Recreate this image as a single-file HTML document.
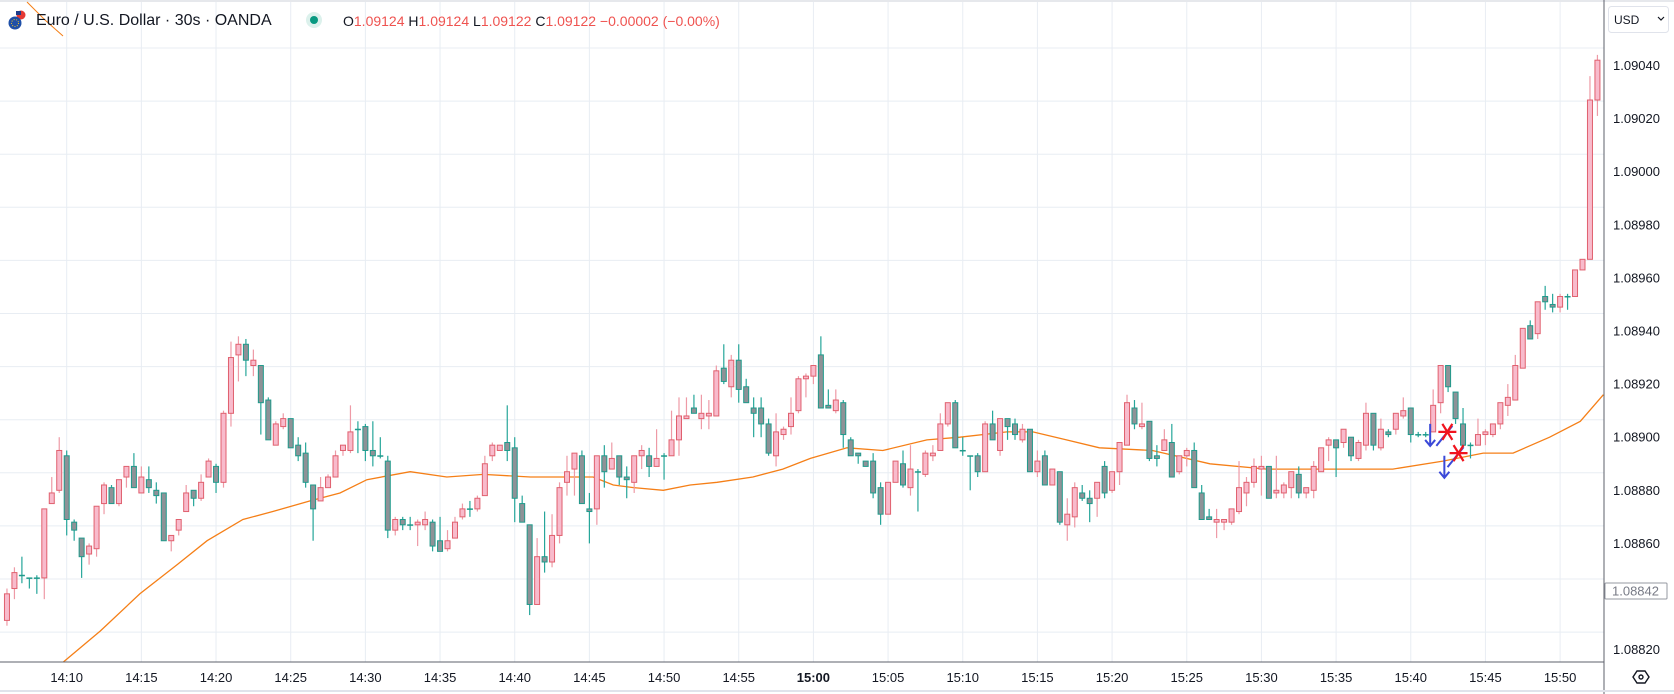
<!DOCTYPE html>
<html><head><meta charset="utf-8"><style>
html,body{margin:0;padding:0;background:#fff;}
body{width:1674px;height:694px;overflow:hidden;position:relative;font-family:"Liberation Sans",sans-serif;}
svg{position:absolute;left:0;top:0;}
.hdr{position:absolute;top:11px;left:36px;font-size:16px;color:#131722;white-space:nowrap;line-height:20px;}
.ohlc{position:absolute;top:13px;left:343px;font-size:14px;color:#ef5350;white-space:nowrap;line-height:16px;}
.ohlc b{font-weight:normal;color:#131722;}
</style></head><body>
<svg id="chart" width="1674" height="694"></svg>
<div class="hdr">Euro / U.S. Dollar · 30s · OANDA</div>
<div class="ohlc"><b>O</b>1.09124 <b>H</b>1.09124 <b>L</b>1.09122 <b>C</b>1.09122 −0.00002 (−0.00%)</div>
<script>
const opens=[1.08831,1.08843,1.08848,1.08847,1.08847,1.08847,1.08875,1.08880,1.08893,1.08868,
1.08862,1.08856,1.08858,1.08875,1.08881,1.08875,1.08885,1.08889,1.08879,1.08884,
1.08880,1.08879,1.08861,1.08865,1.08872,1.08880,1.08877,1.08885,1.08889,1.08883,
1.08909,1.08931,1.08935,1.08927,1.08927,1.08914,1.08897,1.08904,1.08907,1.08897,
1.08894,1.08882,1.08876,1.08881,1.08885,1.08895,1.08895,1.08903,1.08904,1.08895,
1.08893,1.08891,1.08865,1.08869,1.08867,1.08867,1.08867,1.08868,1.08861,1.08858,
1.08862,1.08870,1.08873,1.08873,1.08878,1.08893,1.08895,1.08898,1.08896,1.08875,
1.08867,1.08837,1.08855,1.08853,1.08863,1.08883,1.08888,1.08893,1.08873,1.08873,
1.08893,1.08888,1.08893,1.08885,1.08883,1.08893,1.08893,1.08889,1.08893,1.08893,
1.08899,1.08907,1.08911,1.08907,1.08908,1.08908,1.08926,1.08919,1.08929,1.08919,
1.08911,1.08911,1.08905,1.08893,1.08901,1.08904,1.08910,1.08922,1.08923,1.08931,
1.08912,1.08910,1.08913,1.08899,1.08894,1.08891,1.08891,1.08881,1.08871,1.08883,
1.08890,1.08881,1.08887,1.08886,1.08893,1.08895,1.08905,1.08913,1.08895,1.08893,
1.08893,1.08887,1.08905,1.08895,1.08907,1.08905,1.08899,1.08903,1.08887,1.08893,
1.08882,1.08887,1.08867,1.08870,1.08879,1.08877,1.08877,1.08889,1.08880,1.08887,
1.08897,1.08911,1.08904,1.08906,1.08893,1.08895,1.08898,1.08887,1.08893,1.08895,
1.08879,1.08870,1.08868,1.08868,1.08868,1.08872,1.08879,1.08883,1.08888,1.08889,
1.08879,1.08879,1.08881,1.08886,1.08879,1.08880,1.08887,1.08897,1.08899,1.08898,
1.08900,1.08892,1.08897,1.08909,1.08896,1.08902,1.08903,1.08908,1.08911,1.08901,
1.08901,1.08902,1.08913,1.08927,1.08917,1.08905,1.08897,1.08897,1.08901,1.08901,
1.08905,1.08912,1.08914,1.08926,1.08942,1.08939,1.08953,1.08950,1.08949,1.08953,
1.08953,1.08963,1.08967,1.09027];
const highs=[1.08843,1.08851,1.08855,1.08847,1.08848,1.08873,1.08885,1.08900,1.08895,1.08869,
1.08862,1.08860,1.08874,1.08883,1.08882,1.08884,1.08889,1.08894,1.08889,1.08889,
1.08883,1.08879,1.08863,1.08869,1.08882,1.08880,1.08886,1.08892,1.08890,1.08910,
1.08936,1.08938,1.08937,1.08933,1.08927,1.08915,1.08906,1.08909,1.08907,1.08900,
1.08898,1.08882,1.08885,1.08886,1.08895,1.08897,1.08912,1.08906,1.08905,1.08906,
1.08900,1.08893,1.08870,1.08870,1.08870,1.08869,1.08872,1.08869,1.08870,1.08865,
1.08870,1.08875,1.08876,1.08878,1.08893,1.08898,1.08897,1.08912,1.08900,1.08878,
1.08867,1.08862,1.08872,1.08871,1.08883,1.08893,1.08894,1.08895,1.08879,1.08893,
1.08897,1.08898,1.08893,1.08889,1.08893,1.08897,1.08896,1.08903,1.08894,1.08910,
1.08915,1.08915,1.08916,1.08916,1.08914,1.08927,1.08935,1.08931,1.08935,1.08922,
1.08915,1.08915,1.08907,1.08909,1.08904,1.08915,1.08923,1.08924,1.08927,1.08938,
1.08918,1.08918,1.08914,1.08900,1.08894,1.08891,1.08894,1.08883,1.08883,1.08891,
1.08895,1.08897,1.08888,1.08895,1.08897,1.08909,1.08913,1.08914,1.08900,1.08893,
1.08894,1.08906,1.08910,1.08907,1.08907,1.08907,1.08905,1.08903,1.08895,1.08895,
1.08888,1.08887,1.08877,1.08883,1.08882,1.08880,1.08883,1.08891,1.08887,1.08898,
1.08916,1.08914,1.08913,1.08906,1.08897,1.08903,1.08905,1.08893,1.08896,1.08898,
1.08882,1.08873,1.08873,1.08869,1.08873,1.08891,1.08885,1.08892,1.08893,1.08889,
1.08893,1.08883,1.08887,1.08889,1.08881,1.08891,1.08896,1.08900,1.08899,1.08903,
1.08900,1.08899,1.08913,1.08909,1.08907,1.08903,1.08909,1.08915,1.08911,1.08902,
1.08902,1.08918,1.08927,1.08927,1.08917,1.08911,1.08898,1.08907,1.08903,1.08905,
1.08913,1.08920,1.08931,1.08941,1.08944,1.08951,1.08957,1.08954,1.08954,1.08954,
1.08963,1.08967,1.09036,1.09044];
const lows=[1.08829,1.08839,1.08845,1.08843,1.08841,1.08839,1.08875,1.08879,1.08863,1.08861,
1.08847,1.08852,1.08855,1.08871,1.08875,1.08874,1.08881,1.08881,1.08879,1.08879,
1.08875,1.08861,1.08857,1.08863,1.08872,1.08874,1.08876,1.08885,1.08879,1.08881,
1.08904,1.08921,1.08923,1.08923,1.08901,1.08899,1.08897,1.08903,1.08896,1.08891,
1.08881,1.08861,1.08876,1.08881,1.08885,1.08893,1.08894,1.08894,1.08891,1.08889,
1.08892,1.08862,1.08863,1.08865,1.08865,1.08859,1.08865,1.08857,1.08857,1.08857,
1.08862,1.08869,1.08870,1.08872,1.08878,1.08891,1.08895,1.08891,1.08868,1.08868,
1.08833,1.08837,1.08849,1.08851,1.08860,1.08878,1.08878,1.08875,1.08860,1.08867,
1.08881,1.08888,1.08882,1.08877,1.08879,1.08888,1.08885,1.08889,1.08884,1.08893,
1.08893,1.08907,1.08909,1.08903,1.08903,1.08908,1.08920,1.08915,1.08913,1.08913,
1.08900,1.08900,1.08893,1.08889,1.08899,1.08901,1.08909,1.08915,1.08920,1.08911,
1.08911,1.08909,1.08896,1.08893,1.08890,1.08889,1.08877,1.08867,1.08871,1.08883,
1.08881,1.08878,1.08872,1.08885,1.08891,1.08895,1.08904,1.08896,1.08893,1.08880,
1.08885,1.08887,1.08899,1.08893,1.08899,1.08899,1.08898,1.08887,1.08885,1.08882,
1.08882,1.08867,1.08861,1.08866,1.08876,1.08868,1.08870,1.08877,1.08879,1.08882,
1.08897,1.08903,1.08903,1.08891,1.08889,1.08895,1.08885,1.08886,1.08889,1.08881,
1.08869,1.08869,1.08862,1.08865,1.08867,1.08871,1.08874,1.08881,1.08878,1.08877,
1.08877,1.08877,1.08877,1.08877,1.08877,1.08877,1.08887,1.08891,1.08885,1.08896,
1.08891,1.08891,1.08895,1.08895,1.08895,1.08900,1.08901,1.08907,1.08898,1.08900,
1.08900,1.08902,1.08909,1.08917,1.08905,1.08897,1.08892,1.08897,1.08897,1.08900,
1.08903,1.08908,1.08914,1.08926,1.08937,1.08937,1.08948,1.08947,1.08947,1.08948,
1.08953,1.08963,1.08967,1.09021];
const closes=[1.08841,1.08849,1.08848,1.08847,1.08847,1.08873,1.08879,1.08895,1.08869,1.08865,
1.08855,1.08859,1.08874,1.08882,1.08875,1.08884,1.08889,1.08881,1.08885,1.08881,
1.08878,1.08861,1.08863,1.08869,1.08879,1.08877,1.08883,1.08891,1.08883,1.08909,
1.08930,1.08935,1.08929,1.08929,1.08913,1.08899,1.08905,1.08907,1.08896,1.08893,
1.08883,1.08873,1.08881,1.08885,1.08893,1.08897,1.08902,1.08903,1.08895,1.08893,
1.08893,1.08865,1.08869,1.08867,1.08867,1.08868,1.08869,1.08859,1.08857,1.08861,
1.08868,1.08873,1.08873,1.08877,1.08890,1.08897,1.08897,1.08895,1.08877,1.08868,
1.08837,1.08855,1.08853,1.08863,1.08881,1.08887,1.08894,1.08875,1.08872,1.08893,
1.08887,1.08892,1.08885,1.08884,1.08893,1.08895,1.08889,1.08892,1.08893,1.08899,
1.08908,1.08908,1.08909,1.08909,1.08909,1.08925,1.08921,1.08929,1.08918,1.08913,
1.08909,1.08905,1.08894,1.08902,1.08903,1.08909,1.08922,1.08923,1.08927,1.08911,
1.08911,1.08914,1.08901,1.08893,1.08893,1.08889,1.08879,1.08871,1.08883,1.08891,
1.08882,1.08888,1.08887,1.08894,1.08894,1.08905,1.08913,1.08896,1.08895,1.08893,
1.08887,1.08905,1.08899,1.08907,1.08904,1.08901,1.08903,1.08887,1.08891,1.08882,
1.08888,1.08868,1.08871,1.08881,1.08877,1.08875,1.08883,1.08879,1.08887,1.08898,
1.08913,1.08905,1.08905,1.08892,1.08892,1.08899,1.08885,1.08893,1.08895,1.08881,
1.08869,1.08869,1.08869,1.08869,1.08873,1.08881,1.08883,1.08889,1.08889,1.08877,
1.08880,1.08882,1.08887,1.08879,1.08881,1.08889,1.08896,1.08899,1.08896,1.08903,
1.08893,1.08898,1.08909,1.08897,1.08903,1.08901,1.08909,1.08910,1.08901,1.08901,
1.08901,1.08912,1.08927,1.08919,1.08907,1.08897,1.08897,1.08901,1.08902,1.08905,
1.08913,1.08915,1.08927,1.08941,1.08937,1.08951,1.08951,1.08949,1.08953,1.08953,
1.08963,1.08967,1.09027,1.09042];
const maIndex=[7,12.5,17.8,22.8,26.8,31.6,35.6,40.6,44.6,48.2,54,58.9,63.8,70.1,75,78.5,81.2,83.9,87.9,91.5,95.1,99.9,103.9,107.6,112.5,117.3,123.2,127.6,133.9,137.4,141.9,146.3,153.4,161.1,168.7,178.5,185.6,192.3,197.7,201.7,206.6,210.7,213.8];
const maValues=[1.08814,1.08827,1.08841,1.08852,1.08861,1.08869,1.08872,1.08876,1.08879,1.08884,1.08887,1.08885,1.08886,1.08885,1.08885,1.08885,1.08882,1.08881,1.08880,1.08882,1.08883,1.08885,1.08888,1.08892,1.08896,1.08895,1.08899,1.08900,1.08902,1.08902,1.08899,1.08896,1.08895,1.08890,1.08888,1.08888,1.08888,1.08891,1.08894,1.08894,1.08900,1.08906,1.08916];
const priceTicks=["1.09040","1.09020","1.09000","1.08980","1.08960","1.08940","1.08920","1.08900","1.08880","1.08860","1.08820"];
const timeTicks=["14:10","14:15","14:20","14:25","14:30","14:35","14:40","14:45","14:50","14:55","15:00","15:05","15:10","15:15","15:20","15:25","15:30","15:35","15:40","15:45","15:50"];
const arrowIdx=[190.6,192.5];
const arrowPrice=[1.08905,1.08893];
const starIdx=[192.9,194.4];
const starPrice=[1.08902,1.08894];

const NS="http://www.w3.org/2000/svg";
const svg=document.getElementById('chart');
function xOf(i){return 66.7+(i-8)*7.467;}
function yOf(p){return 65.5+(1.09040-p)/0.0002*53.1;}
function mk(tag,attrs,parent){const e=document.createElementNS(NS,tag);for(const k in attrs)e.setAttribute(k,attrs[k]);(parent||svg).appendChild(e);return e;}

// top strip and bottom line
let r=mk('rect',{x:0,y:0,width:1674,height:2,fill:'#e6e8ec'});


// grid
const grid=mk('g',{});


for(let k=0;k<12;k++){const y=48+k*53.1;const l=mk('line',{x1:0,x2:1604,y1:y,y2:y,stroke:'#e8edf3','stroke-width':1},grid);

}
timeTicks.forEach((t,k)=>{const x=66.7+k*74.67;const l=mk('line',{x1:x,x2:x,y1:2,y2:662,stroke:'#e8edf3','stroke-width':1},grid);

});

// clip
const defs=mk('defs',{});
const cp=mk('clipPath',{id:'plot'},defs);mk('rect',{x:0,y:0,width:1604,height:662},cp);
const plot=mk('g',{'clip-path':'url(#plot)'});



// MA line
let d='';maIndex.forEach((ix,k)=>{d+=(k?'L':'M')+xOf(ix).toFixed(1)+','+yOf(maValues[k]).toFixed(1);});
const ma=mk('path',{d:d,fill:'none',stroke:'#f57f17','stroke-width':1.3},plot);


const ma2=mk('path',{d:'M27,2L45,20L63,36',fill:'none',stroke:'#f57f17','stroke-width':1},plot);



// candles
closes.forEach((c,i)=>{
  const o=opens[i],h=highs[i],lo=lows[i];const up=c>o;
  const x=xOf(i);const g=mk('g',{},plot);
  
  
  mk('line',{x1:x,x2:x,y1:yOf(h),y2:yOf(lo),stroke:up?'#ee9aa6':'#26a69a','stroke-width':1.2},g);
  const top=yOf(Math.max(o,c)),bot=yOf(Math.min(o,c));
  const hgt=Math.max(bot-top,1);
  if(bot-top<1.5){mk('rect',{x:x-3,y:top-0.5,width:6,height:1.5,fill:up?'#e0606e':'#1f9a8b'},g);}
  else mk('rect',{x:x-2.5,y:top,width:5,height:hgt,fill:up?'#f8bbcc':'#8e9297',stroke:up?'#e0606e':'#1f9a8b','stroke-width':1},g);
});

// signal markers
arrowIdx.forEach((ix,k)=>{const x=xOf(ix),y=yOf(arrowPrice[k]);const g=mk('g',{stroke:'#3b49d8','stroke-width':2,fill:'none'},plot);


mk('path',{d:`M${x},${y}V${y+22}M${x-5},${y+16}L${x},${y+22}L${x+5},${y+16}`},g);});
starIdx.forEach((ix,k)=>{const x=xOf(ix),y=yOf(starPrice[k]);
const b=mk('line',{x1:x-11,y1:y+14,x2:x+5,y2:y-6,stroke:'#3b49d8','stroke-width':2},plot);


const g=mk('g',{stroke:'#f0141e','stroke-width':2.2},plot);


mk('path',{d:`M${x-9},${y}H${x+9}M${x-5},${y-8}L${x+5},${y+8}M${x+5},${y-8}L${x-5},${y+8}`},g);});

// axes
let a=mk('line',{x1:1604,x2:1604,y1:0,y2:694,stroke:'#5d606b','stroke-width':1});


a=mk('line',{x1:0,x2:1604,y1:662,y2:662,stroke:'#5d606b','stroke-width':1});


a=mk('line',{x1:0,x2:1674,y1:691,y2:691,stroke:'#e0e3eb','stroke-width':2});


priceTicks.forEach(t=>{const tx=mk('text',{x:1613,y:yOf(parseFloat(t))+4.5,'font-size':13,fill:'#131722','font-family':'Liberation Sans, sans-serif'});tx.textContent=t;

});
timeTicks.forEach((t,k)=>{const tx=mk('text',{x:66.7+k*74.67,y:682,'font-size':13,'text-anchor':'middle',fill:'#131722','font-weight':t==='15:00'?'bold':'normal','font-family':'Liberation Sans, sans-serif'});tx.textContent=t;

});
// price box
const pb=mk('g',{});


mk('rect',{x:1605,y:583,width:62,height:16,fill:'#fff',stroke:'#9598a1','stroke-width':1,rx:1},pb);
const pt=mk('text',{x:1612,y:595.5,'font-size':13,fill:'#787b86','font-family':'Liberation Sans, sans-serif'},pb);pt.textContent='1.08842';
// USD button
const ub=mk('g',{});


mk('rect',{x:1608.5,y:6.5,width:60,height:26,fill:'#fff',stroke:'#e0e3eb',rx:3},ub);
const ut=mk('text',{x:1614,y:24,'font-size':12,fill:'#131722','font-family':'Liberation Sans, sans-serif'},ub);ut.textContent='USD';
mk('path',{d:'M1658,17l3,3l3,-3',fill:'none',stroke:'#131722','stroke-width':1.2},ub);
// eye/settings icon
const eye=mk('g',{fill:'none',stroke:'#131722','stroke-width':1.4});


mk('path',{d:'M1633,677l4,-6h8l4,6l-4,6h-8z'},eye);mk('circle',{cx:1641,cy:677,r:2},eye);
// header icons
const ic=mk('g',{});


mk('circle',{cx:21,cy:15,r:4.5,fill:'#e53935'},ic);mk('rect',{x:16,y:11,width:5,height:4,fill:'#1e3c8a'},ic);
mk('circle',{cx:15,cy:23,r:6.5,fill:'#1e4fa8'},ic);mk('circle',{cx:15,cy:23,r:3.5,fill:'none',stroke:'#f3c623','stroke-width':1,'stroke-dasharray':'1 1.5'},ic);
const dot=mk('g',{});


mk('circle',{cx:314,cy:20,r:8,fill:'#dcf1ec'},dot);mk('circle',{cx:314,cy:20,r:4,fill:'#089981'},dot);
</script>
</body></html>
